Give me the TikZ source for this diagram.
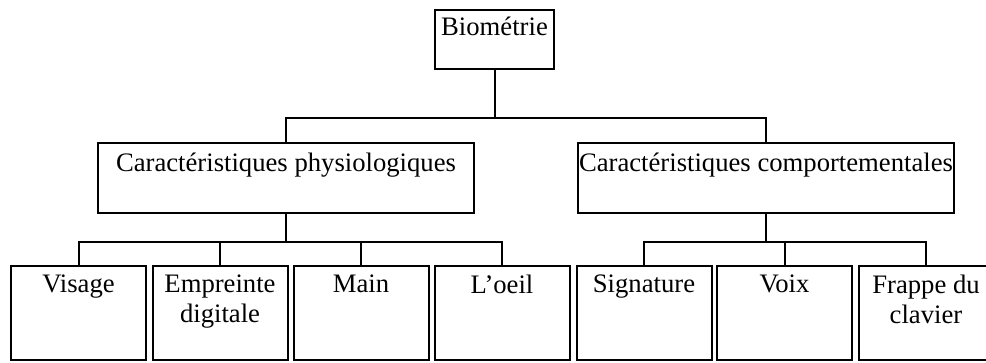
\documentclass[tikz,border=0pt]{standalone}
\usepackage{fontspec}
\setmainfont{Liberation Serif}
\usetikzlibrary{positioning}
\tikzset{
  boite/.style={draw, line width=1.5pt, inner sep=0pt},
  feuille/.style={boite, minimum width=101.25pt, minimum height=70.5pt},
  branche/.style={boite, minimum width=282pt, minimum height=52.5pt},
  texte/.style={inner sep=0pt, align=center, font=\fontsize{20}{22.5}\selectfont},
  lien/.style={line width=1.5pt}
}
\begin{document}
\begin{tikzpicture}[x=0.75pt,y=-0.75pt]
    \useasboundingbox (0,0) rectangle (986,362);
    % boites
    \node[boite, minimum width=89.25pt, minimum height=44.25pt] (bio) at (494.5,39.5) {};
    \node[branche] (phys) at (286,178) {};
    \node[branche] (comp) at (766,178) {};
    \node[feuille] (vis) at (78.5,313) {};
    \node[feuille] (empr) at (220,313) {};
    \node[feuille] (main) at (361,313) {};
    \node[feuille] (oeil) at (502,313) {};
    \node[feuille] (sign) at (644,313) {};
    \node[feuille] (voix) at (784.5,313) {};
    \node[feuille] (frap) at (926,313) {};
    % textes
    \node[texte, below=6pt of bio.north] (bioT) {Biométrie};
    \node[texte, below=8pt of phys.north] (physT) {Caractéristiques physiologiques};
    \node[texte, below=8pt of comp.north] (compT) {Caractéristiques comportementales};
    \node[texte, below=7pt of vis.north] (visT) {Visage};
    \node[texte, below=7pt of empr.north] (emprT) {Empreinte\\digitale};
    \node[texte, below=7pt of main.north] (mainT) {Main};
    \node[texte, below=7pt of oeil.north] (oeilT) {L’oeil};
    \node[texte, below=7pt of sign.north] (signT) {Signature};
    \node[texte, below=7pt of voix.north] (voixT) {Voix};
    \node[texte, below=7pt of frap.north] (frapT) {Frappe du\\clavier};
    % liens
    \draw[lien] (bio.south) -- ++(0,48) coordinate (j0);
    \draw[lien] (j0) -| (phys.north);
    \draw[lien] (j0) -| (comp.north);
    \foreach \f in {vis,empr,main,oeil}
      \draw[lien] (phys.south) -- ++(0,28) -| (\f.north);
    \foreach \f in {sign,voix,frap}
      \draw[lien] (comp.south) -- ++(0,28) -| (\f.north);
  \end{tikzpicture}
\end{document}
